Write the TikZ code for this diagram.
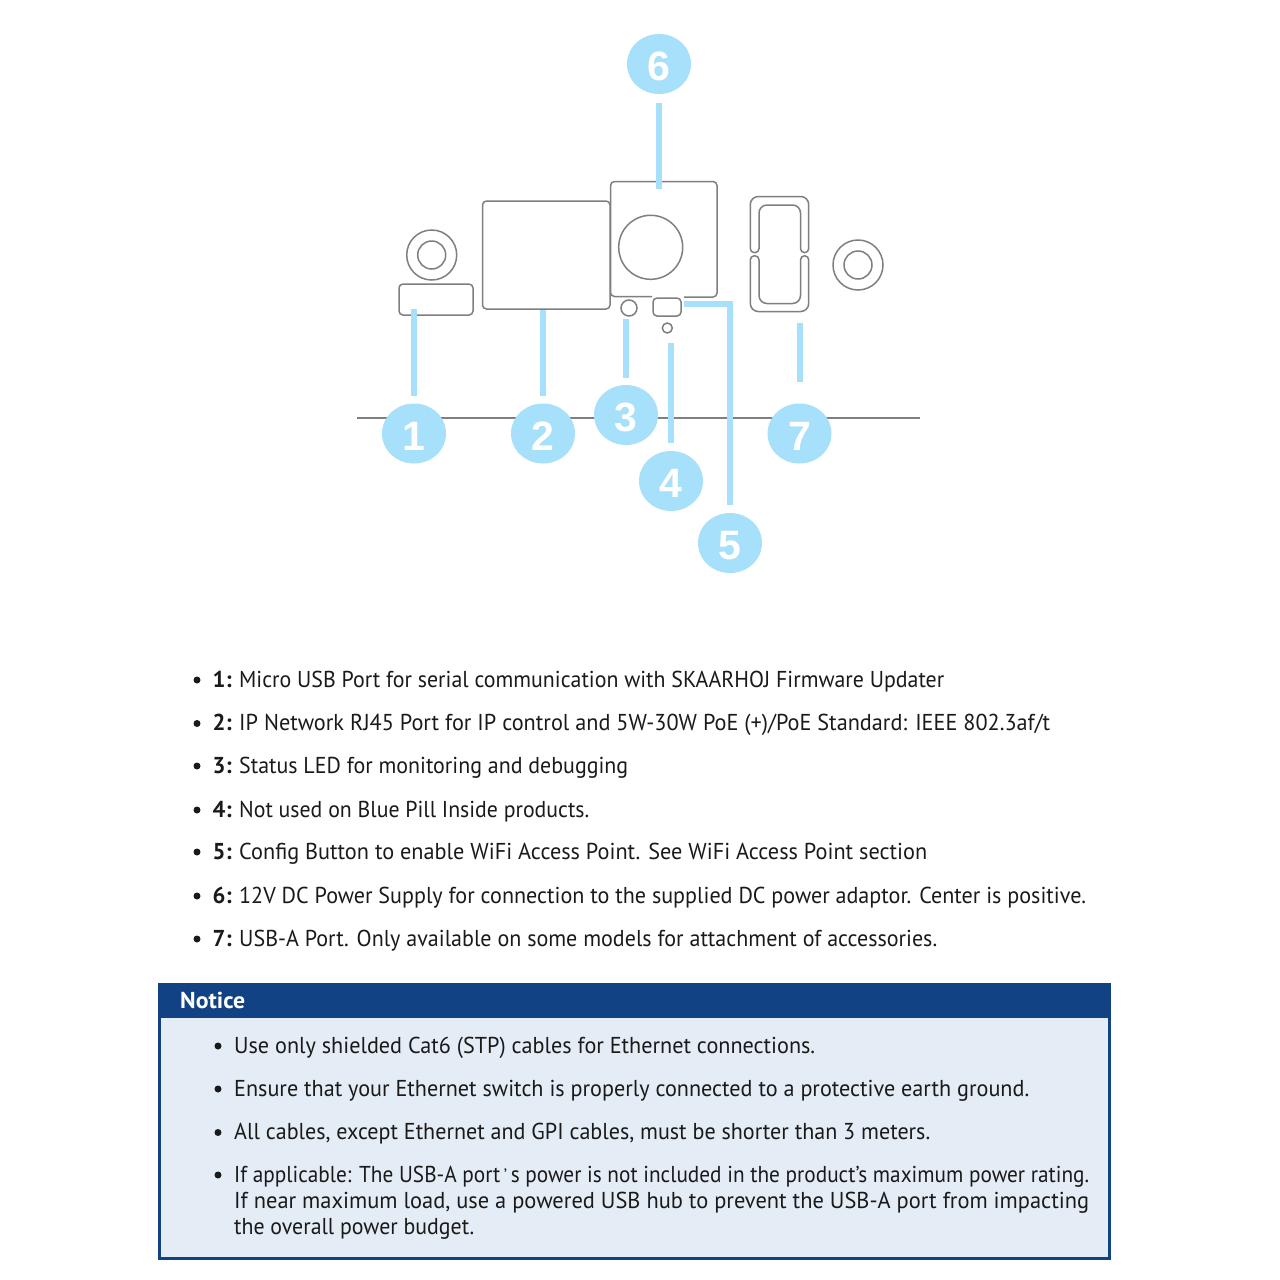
\documentclass[tikz,border=0pt]{standalone}
\usepackage{fontspec}
\setmainfont{PT Sans}
\newfontfamily\digitfont{Liberation Sans}
\usetikzlibrary{shapes.geometric}
\definecolor{leadblue}{HTML}{A6E0FA}
\definecolor{outline}{HTML}{7F7F7F}
\definecolor{noticeblue}{HTML}{104284}
\definecolor{noticefill}{HTML}{E4ECF5}
\definecolor{bodyink}{HTML}{1A1A1A}
\tikzset{
  part/.style={draw=outline,line width=1.5pt,fill=none},
  partbox/.style={part,rounded corners=4pt},
  lead/.style={draw=leadblue,line width=6pt},
  callout/.style={ellipse,fill=leadblue,text=white,inner sep=0pt,minimum width=64pt,minimum height=60pt,text height=33pt,text depth=0pt,font=\digitfont\bfseries\fontsize{41}{41}\selectfont},
  txt/.style={anchor=base west,inner sep=0pt,text=bodyink,font=\fontsize{23}{23}\selectfont},
  bul/.style={circle,fill=bodyink,inner sep=0pt,minimum size=7pt},
}
\newcommand{\fit}[2]{\resizebox{#1pt}{\height}{#2}}
\newcommand{\itemline}[5]{% id, baseline, label, width, text
  \node[bul] (b#1) at (197,#2-7) {};
  \node[txt,font=\fontsize{23}{23}\selectfont\bfseries] (k#1) at (212.5,#2) {\fit{19}{#3}};
  \node[txt] (t#1) at (239,#2) {\fit{#4}{#5}};
}
\newcommand{\noteline}[4]{% id, baseline, width, text
  \node[bul] (nb#1) at (218,#2-7) {};
  \node[txt] (nt#1) at (234,#2) {\fit{#3}{#4}};
}
\begin{document}
\begin{tikzpicture}[x=1pt,y=-1pt]
\useasboundingbox[fill=white] (0,0) rectangle (1280,1280);

% base line
\coordinate (baseL) at (357,418);
\coordinate (baseR) at (920,418);
\draw[draw=outline,line width=2pt] (baseL) -- (baseR);

% device parts
\node[circle,part,minimum size=50pt,inner sep=0pt] (usbOuter) at (431.7,255) {};
\node[circle,part,minimum size=28pt,inner sep=0pt] (usbInner) at (431.7,255) {};
\draw[partbox] (399,284) rectangle (473,315);
\draw[partbox] (482.5,201) rectangle (610,309);
\draw[partbox] (652,296.5) -- (610.5,296.5) -- (610.5,181.5) -- (717,181.5) -- (717,297) -- (684,297);
\node[circle,part,minimum size=64pt,inner sep=0pt] (jack) at (650.7,247.3) {};
\draw[partbox] (653,298) rectangle (681,316);
\node[circle,part,minimum size=16pt,inner sep=0pt] (led) at (629,308) {};
\node[circle,part,minimum size=10pt,inner sep=0pt] (hole) at (667.3,328) {};
% USB-A port
\draw[part,rounded corners=4pt] (759,240) -- (759,252.6) -- (750.3,252.6) [rounded corners=8pt] -- (750.3,196.5) -- (808.7,196.5) [rounded corners=4pt] -- (808.7,252.6) -- (800.5,252.6) [rounded corners=8pt] -- (800.5,205) -- (759,205) -- (759,240);
\draw[part,rounded corners=4pt] (759,270) -- (759,255.8) -- (750.3,255.8) [rounded corners=8pt] -- (750.3,311.5) -- (808.7,311.5) [rounded corners=4pt] -- (808.7,255.8) -- (800.5,255.8) [rounded corners=8pt] -- (800.5,303.5) -- (759,303.5) -- (759,270);
\node[circle,part,minimum size=50pt,inner sep=0pt] (rOuter) at (858,265) {};
\node[circle,part,minimum size=28pt,inner sep=0pt] (rInner) at (858,265) {};

% callouts
\node[callout] (n1) at (414,433.5) {1};
\node[callout] (n2) at (543,433.5) {2};
\node[callout] (n3) at (626,415) {3};
\node[callout] (n4) at (671,481) {4};
\node[callout] (n5) at (730,543) {5};
\node[callout] (n6) at (659,64) {6};
\node[callout] (n7) at (799.5,433.5) {7};

% connectors
\coordinate (e1) at (414,309);
\coordinate (e2) at (543,310);
\coordinate (e3) at (626,319);
\coordinate (e4) at (671,343);
\coordinate (e5a) at (730,303.5);
\coordinate (e5b) at (684,303.5);
\coordinate (e6) at (659,189);
\coordinate (e7) at (799.5,323);
\draw[lead,shorten <=7.5pt] (n1.north) -- (e1);
\draw[lead,shorten <=7.5pt] (n2.north) -- (e2);
\draw[lead,shorten <=7pt] (n3.north) -- (e3);
\draw[lead,shorten <=7.5pt] (n4.north) -- (e4);
\draw[lead,shorten <=8pt] (n5.north) -- (e5a) -- (e5b);
\draw[lead,shorten <=9pt] (n6.south) -- (e6);
\draw[lead,shorten <=21pt] (n7.north) -- (e7);

% list
\itemline{1}{687}{1:}{705}{Micro USB Port for serial communication with SKAARHOJ Firmware Updater}
\itemline{2}{730.5}{2:}{811}{IP Network RJ45 Port for IP control and 5W-30W PoE (+)/PoE Standard: IEEE 802.3af/t}
\itemline{3}{773}{3:}{389}{Status LED for monitoring and debugging}
\itemline{4}{817}{4:}{350}{Not used on Blue Pill Inside products.}
\itemline{5}{859}{5:}{688}{Config Button to enable WiFi Access Point. See WiFi Access Point section}
\itemline{6}{903}{6:}{847}{12V DC Power Supply for connection to the supplied DC power adaptor. Center is positive.}
\itemline{7}{946}{7:}{698}{USB-A Port. Only available on some models for attachment of accessories.}

% notice
\path[fill=noticefill,draw=noticeblue,line width=3pt] (159,984) rectangle (1109.5,1258.5);
\path[fill=noticeblue] (157.5,982.5) rectangle (1111,1018);
\node[anchor=base west,inner sep=0pt,text=white,font=\fontsize{23}{23}\selectfont\bfseries] (noticeTitle) at (180,1008) {\fit{65}{Notice}};
\noteline{1}{1053}{581}{Use only shielded Cat6 (STP) cables for Ethernet connections.}
\noteline{2}{1096}{795}{Ensure that your Ethernet switch is properly connected to a protective earth ground.}
\noteline{3}{1139.5}{696}{All cables, except Ethernet and GPI cables, must be shorter than 3 meters.}
\noteline{4}{1182}{855}{If applicable: The USB-A port\,\raisebox{1pt}{\fontsize{18}{18}\selectfont ’}\,s power is not included in the product’s maximum power rating.}
\node[txt] (nt5) at (234,1208) {\fit{855}{If near maximum load, use a powered USB hub to prevent the USB-A port from impacting}};
\node[txt] (nt6) at (234,1234) {\fit{240}{the overall power budget.}};
\end{tikzpicture}
\end{document}
